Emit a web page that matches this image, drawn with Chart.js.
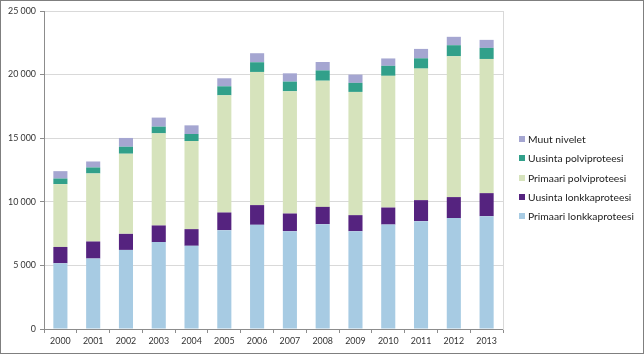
<!DOCTYPE html>
<html>
<head>
<meta charset="utf-8">
<script src="https://cdn.jsdelivr.net/npm/chart.js@4/dist/chart.umd.min.js"></script>
<style>
  html, body { margin: 0; padding: 0; background: #fff; }
  #wrap { position: relative; width: 644px; height: 355px; overflow: hidden; }
  #c { position: absolute; left: 0; top: 0; }
  #frame { position: absolute; left: 0; top: 0; width: 644px; height: 354px; box-sizing: border-box; border: 1px solid #7f7f7f; pointer-events: none; }
  #legend { position: absolute; left: 519px; top: 131px; font-family: Lato, sans-serif; font-size: 10.3px; color: #222; }
  .item { position: absolute; left: 0; height: 16px; white-space: nowrap; }
  .sw { position: absolute; left: 0; top: 5px; width: 6px; height: 6px; }
  .tx { position: absolute; left: 9px; top: 0; line-height: 16px; }
</style>
</head>
<body>
<div id="wrap">
  <canvas id="c" width="644" height="355"></canvas>
  <div id="legend"></div>
  <div id="frame"></div>
</div>
<script>
const years = ['2000','2001','2002','2003','2004','2005','2006','2007','2008','2009','2010','2011','2012','2013'];
const primaariLonkka = [5170, 5540, 6220, 6830, 6540, 7770, 8190, 7690, 8240, 7690, 8210, 8480, 8720, 8870];
const uusintaLonkka  = [1280, 1340, 1260, 1310, 1310, 1390, 1550, 1390, 1360, 1260, 1340, 1650, 1650, 1810];
const primaariPolvi  = [4940, 5350, 6300, 7240, 6930, 9210, 10470, 9610, 9920, 9690, 10350, 10340, 11070, 10550];
const uusintaPolvi   = [440, 470, 550, 530, 550, 710, 760, 760, 810, 710, 790, 810, 870, 870];
const muutNivelet    = [580, 470, 690, 710, 680, 630, 710, 650, 660, 650, 580, 740, 660, 630];
const seriesNames = ['Primaari lonkkaproteesi','Uusinta lonkkaproteesi','Primaari polviproteesi','Uusinta polviproteesi','Muut nivelet'];
const seriesColors = ['#a7cbe3','#55237f','#d6e3bc','#31a08a','#a5a6d1'];
const yTicks = [0, 5000, 10000, 15000, 20000, 25000];

const seriesData = [primaariLonkka, uusintaLonkka, primaariPolvi, uusintaPolvi, muutNivelet];
const datasets = seriesData.map((d, i) => ({
  label: seriesNames[i],
  data: d,
  backgroundColor: seriesColors[i],
  borderWidth: 0,
  barPercentage: 0.43,
  categoryPercentage: 1.0,
  stack: 's'
}));

const fmt = v => String(v).replace(/\B(?=(\d{3})+(?!\d))/g, ' ');
const axisFont = { family: 'Lato, sans-serif', size: 8.9 };

new Chart(document.getElementById('c'), {
  type: 'bar',
  data: { labels: years, datasets },
  options: {
    responsive: false,
    animation: false,
    devicePixelRatio: 1,
    layout: { padding: { left: 0, right: 141, top: 11, bottom: 0 } },
    plugins: { legend: { display: false }, tooltip: { enabled: false } },
    scales: {
      x: {
        stacked: true,
        grid: { display: true, drawOnChartArea: false, drawTicks: true, tickLength: 4, color: '#8c8c8c', offset: true },
        border: { display: true, color: '#8c8c8c' },
        ticks: { font: axisFont, color: '#333', padding: 3, maxRotation: 0, autoSkip: false },
        afterFit: s => { s.height = 26; }
      },
      y: {
        stacked: true,
        min: 0, max: 25000,
        afterBuildTicks: s => { s.ticks = yTicks.map(v => ({ value: v })); },
        grid: { color: '#d9d9d9', tickColor: '#8c8c8c', tickLength: 4, drawTicks: true },
        border: { display: true, color: '#8c8c8c' },
        ticks: { font: axisFont, color: '#333', padding: 4, callback: v => fmt(v) },
        afterFit: s => { s.width = 44; }
      },
      y2: {
        position: 'right',
        min: 0, max: 25000,
        grid: { display: false, drawOnChartArea: false, drawTicks: false },
        border: { display: true, color: '#d9d9d9' },
        ticks: { display: false },
        afterFit: s => { s.width = 0; }
      }
    }
  }
});

const lg = document.getElementById('legend');
const rowY = [0, 19.3, 38.6, 57.8, 77];
for (let k = 0; k < seriesNames.length; k++) {
  const i = seriesNames.length - 1 - k;
  const it = document.createElement('div');
  it.className = 'item';
  it.style.top = rowY[k] + 'px';
  const sw = document.createElement('div');
  sw.className = 'sw';
  sw.style.background = seriesColors[i];
  const tx = document.createElement('div');
  tx.className = 'tx';
  tx.textContent = seriesNames[i];
  it.appendChild(sw); it.appendChild(tx);
  lg.appendChild(it);
}
</script>
</body>
</html>
